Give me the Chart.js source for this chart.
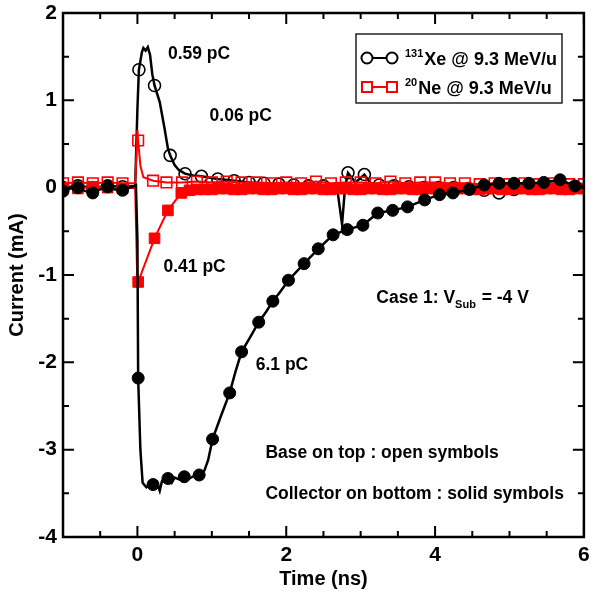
<!DOCTYPE html>
<html>
<head>
<meta charset="UTF-8">
<title>Current vs Time</title>
<script src="https://cdn.jsdelivr.net/npm/chart.js"></script>
<style>
  html, body { margin: 0; padding: 0; background: #fff; }
  canvas { display: block; }
</style>
</head>
<body>
<canvas id="chart" width="593" height="597"></canvas>
<script>
// ---- data (time in ns, current in mA) ----
const xeCollectorLine = [[-1,-0.04],[-0.9,-0.01],[-0.8,0.0],[-0.7,-0.04],[-0.6,-0.06],[-0.5,-0.02],[-0.4,0.01],[-0.3,-0.02],[-0.2,-0.03],[-0.1,0.0],[-0.02,0.03],[0.0,-0.6],[0.01,-2.18],[0.04,-3.0],[0.07,-3.38],[0.12,-3.43],[0.17,-3.40],[0.21,-3.40],[0.26,-3.37],[0.3,-3.47],[0.33,-3.36],[0.37,-3.32],[0.41,-3.33],[0.46,-3.38],[0.5,-3.32],[0.56,-3.34],[0.63,-3.31],[0.7,-3.33],[0.76,-3.30],[0.83,-3.29],[0.9,-3.24],[0.95,-3.12],[1.01,-2.88],[1.12,-2.62],[1.24,-2.35],[1.32,-2.1],[1.40,-1.88],[1.51,-1.72],[1.63,-1.54],[1.73,-1.42],[1.82,-1.30],[1.93,-1.18],[2.03,-1.06],[2.24,-0.87],[2.43,-0.70],[2.63,-0.54],[2.82,-0.48],[3.03,-0.43],[3.23,-0.29],[3.43,-0.26],[3.63,-0.22],[3.86,-0.14],[4.06,-0.08],[4.24,-0.06],[4.46,-0.02],[4.66,0.03],[4.86,0.05],[5.06,0.05],[5.26,0.05],[5.46,0.06],[5.68,0.09],[5.88,0.02],[6.0,0.02]];
const xeCollectorMarks = [[-1,-0.04],[-0.8,0.0],[-0.6,-0.06],[-0.4,0.01],[-0.2,-0.03],[0.01,-2.18],[0.21,-3.40],[0.41,-3.33],[0.63,-3.31],[0.83,-3.29],[1.01,-2.88],[1.24,-2.35],[1.40,-1.88],[1.63,-1.54],[1.82,-1.30],[2.03,-1.06],[2.24,-0.87],[2.43,-0.70],[2.63,-0.54],[2.82,-0.48],[3.03,-0.43],[3.23,-0.29],[3.43,-0.26],[3.63,-0.22],[3.86,-0.14],[4.06,-0.08],[4.24,-0.06],[4.46,-0.02],[4.66,0.03],[4.86,0.05],[5.06,0.05],[5.26,0.05],[5.46,0.06],[5.68,0.09],[5.88,0.02]];

const xeBaseLine = [[-1,0.0],[-0.8,0.02],[-0.6,0.0],[-0.4,0.02],[-0.2,0.01],[-0.03,0.02],[0.0,0.9],[0.02,1.35],[0.06,1.55],[0.08,1.60],[0.11,1.57],[0.14,1.61],[0.17,1.52],[0.2,1.3],[0.23,1.17],[0.3,0.98],[0.36,0.7],[0.41,0.45],[0.44,0.37],[0.5,0.26],[0.56,0.2],[0.64,0.16],[0.75,0.14],[0.86,0.13],[1.08,0.10],[1.3,0.08],[1.5,0.06],[1.7,0.05],[1.9,0.04],[2.1,0.03],[2.3,0.02],[2.5,0.02],[2.68,0.02],[2.75,-0.42],[2.79,0.0],[2.83,0.17],[2.93,0.06],[3.05,0.15],[3.15,0.03],[3.4,0.02],[3.7,0.01],[4.0,0.0],[4.3,0.0],[4.6,-0.02],[4.86,-0.06],[5.1,0.0],[5.4,0.01],[5.7,0.0],[6.0,0.0]];
const xeBaseMarks = [[-1,0.0],[-0.8,0.02],[-0.6,0.0],[-0.4,0.02],[-0.2,0.01],[0.02,1.35],[0.23,1.17],[0.44,0.37],[0.64,0.16],[0.86,0.13],[1.08,0.10],[1.3,0.08],[1.5,0.06],[1.7,0.05],[1.9,0.04],[2.1,0.03],[2.3,0.02],[2.5,0.02],[2.83,0.17],[3.05,0.15],[3.25,0.03],[3.45,0.02],[3.65,0.01],[3.85,0.0],[4.05,0.0],[4.25,0.0],[4.45,-0.01],[4.66,-0.03],[4.86,-0.06],[5.06,-0.02],[5.26,0.0],[5.46,0.01],[5.66,0.0],[5.86,0.0]];

const neBaseLine = [[-1,0.05],[-0.8,0.06],[-0.6,0.05],[-0.4,0.06],[-0.2,0.05],[-0.03,0.05],[0.0,0.66],[0.01,0.54],[0.04,0.25],[0.08,0.12],[0.21,0.08],[0.39,0.06],[0.6,0.06],[0.8,0.07],[1.0,0.06],[1.2,0.07],[1.4,0.06],[1.6,0.06],[1.8,0.05],[2.0,0.06],[2.2,0.05],[2.4,0.07],[2.6,0.05],[2.8,0.06],[3.0,0.06],[3.2,0.05],[3.4,0.07],[3.6,0.05],[3.8,0.06],[4.0,0.06],[4.2,0.05],[4.4,0.05],[4.6,0.04],[4.8,0.05],[5.0,0.04],[5.2,0.05],[5.4,0.04],[5.6,0.05],[5.8,0.04],[6.0,0.04]];
const neBaseMarks = [[-1,0.05],[-0.8,0.06],[-0.6,0.05],[-0.4,0.06],[-0.2,0.05],[0.01,0.54],[0.21,0.08],[0.39,0.06],[0.6,0.06],[0.8,0.07],[1.0,0.06],[1.2,0.07],[1.4,0.06],[1.6,0.06],[1.8,0.05],[2.0,0.06],[2.2,0.05],[2.4,0.07],[2.6,0.05],[2.8,0.06],[3.0,0.06],[3.2,0.05],[3.4,0.07],[3.6,0.05],[3.8,0.06],[4.0,0.06],[4.2,0.05],[4.4,0.05],[4.6,0.04],[4.8,0.05],[5.0,0.04],[5.2,0.05],[5.4,0.04],[5.6,0.05],[5.8,0.04],[6.0,0.04]];

const neCollectorLine = [[-1,0.0],[-0.8,-0.01],[-0.6,0.01],[-0.4,0.0],[-0.2,-0.01],[-0.03,0.0],[0.0,-1.15],[0.01,-1.08],[0.23,-0.58],[0.41,-0.26],[0.59,-0.06],[0.7,-0.03],[0.8,-0.02],[1.0,-0.02],[1.2,-0.01],[1.4,-0.02],[1.6,-0.01],[1.8,-0.02],[2.0,-0.01],[2.2,-0.02],[2.4,-0.01],[2.6,-0.02],[2.8,-0.01],[3.0,-0.02],[3.2,-0.01],[3.4,-0.02],[3.6,-0.01],[3.8,-0.02],[4.0,-0.01],[4.2,-0.02],[4.4,-0.01],[4.6,-0.02],[4.8,-0.01],[5.0,-0.02],[5.2,-0.01],[5.4,-0.02],[5.6,-0.01],[5.8,-0.02],[6.0,-0.01]];
const neCollectorMarks = [[-1,0.0],[-0.8,-0.01],[-0.6,0.01],[-0.4,0.0],[-0.2,-0.01],[0.01,-1.08],[0.23,-0.58],[0.41,-0.26],[0.59,-0.06],[0.7,-0.03],[0.8,-0.02],[0.9,-0.02],[1.0,-0.02],[1.1,-0.01],[1.2,-0.01],[1.3,-0.02],[1.4,-0.02],[1.5,-0.01],[1.6,-0.01],[1.7,-0.02],[1.8,-0.02],[1.9,-0.01],[2.0,-0.01],[2.1,-0.02],[2.2,-0.02],[2.3,-0.01],[2.4,-0.01],[2.5,-0.02],[2.6,-0.02],[2.7,-0.01],[2.8,-0.01],[2.9,-0.02],[3.0,-0.02],[3.1,-0.01],[3.2,-0.01],[3.3,-0.02],[3.4,-0.02],[3.5,-0.01],[3.6,-0.01],[3.7,-0.02],[3.8,-0.02],[3.9,-0.01],[4.0,-0.01],[4.1,-0.02],[4.2,-0.02],[4.3,-0.01],[4.4,-0.01],[4.5,-0.02],[4.6,-0.02],[4.7,-0.01],[4.8,-0.01],[4.9,-0.02],[5.0,-0.02],[5.1,-0.01],[5.2,-0.01],[5.3,-0.02],[5.4,-0.02],[5.5,-0.01],[5.6,-0.01],[5.7,-0.02],[5.8,-0.02],[5.9,-0.01],[6.0,-0.01]];

const xTickLabels = [0, 2, 4, 6];
const xMinorTicks = [-0.5, 0.5, 1, 1.5, 2.5, 3, 3.5, 4.5, 5, 5.5];
const yTickLabels = [-4, -3, -2, -1, 0, 1, 2];
const yMinorTicks = [-3.5, -2.5, -1.5, -0.5, 0.5, 1.5];

const FONT = "'Liberation Sans', Arial, Helvetica, sans-serif";

const pts = arr => arr.map(p => ({ x: p[0], y: p[1] }));

// text notes placed in data units
const notes = [
  { x: 0.41, y: 1.54, parts: [{ t: '0.59 pC' }] },
  { x: 0.97, y: 0.83, parts: [{ t: '0.06 pC' }] },
  { x: 0.35, y: -0.90, parts: [{ t: '0.41 pC' }] },
  { x: 1.59, y: -2.02, parts: [{ t: '6.1 pC' }] },
  { x: 3.21, y: -1.25, parts: [{ t: 'Case 1: V' }, { t: 'Sub', sub: true }, { t: ' = -4 V' }] },
  { x: 1.72, y: -3.03, parts: [{ t: 'Base on top : open symbols' }] },
  { x: 1.72, y: -3.50, parts: [{ t: 'Collector on bottom : solid symbols' }] }
];

function drawRich(ctx, parts, x, y, size) {
  ctx.textAlign = 'left';
  ctx.textBaseline = 'alphabetic';
  let cx = x;
  parts.forEach(p => {
    if (p.sup || p.sub) {
      ctx.font = 'bold ' + Math.round(size * 0.62) + 'px ' + FONT;
      ctx.fillText(p.t, cx, p.sup ? y - size * 0.45 : y + size * 0.3);
    } else {
      ctx.font = 'bold ' + size + 'px ' + FONT;
      ctx.fillText(p.t, cx, y);
    }
    cx += ctx.measureText(p.t).width + (p.sup || p.sub ? 1 : 0);
  });
}

const decor = {
  id: 'decor',
  afterDatasetsDraw(chart) {
    const { ctx, chartArea: a, scales: { x, y } } = chart;
    ctx.save();
    ctx.strokeStyle = '#000';
    ctx.fillStyle = '#000';
    ctx.lineWidth = 2;

    // inward ticks on all four sides
    const tick = (px, len, horiz) => {
      ctx.beginPath();
      if (horiz) {
        ctx.moveTo(px, a.bottom); ctx.lineTo(px, a.bottom - len);
        ctx.moveTo(px, a.top); ctx.lineTo(px, a.top + len);
      } else {
        ctx.moveTo(a.left, px); ctx.lineTo(a.left + len, px);
        ctx.moveTo(a.right, px); ctx.lineTo(a.right - len, px);
      }
      ctx.stroke();
    };
    xTickLabels.forEach(v => tick(x.getPixelForValue(v), 11, true));
    xMinorTicks.forEach(v => tick(x.getPixelForValue(v), 6, true));
    yTickLabels.forEach(v => tick(y.getPixelForValue(v), 11, false));
    yMinorTicks.forEach(v => tick(y.getPixelForValue(v), 6, false));

    ctx.lineWidth = 2.5;
    ctx.strokeRect(a.left, a.top, a.right - a.left, a.bottom - a.top);

    // notes
    notes.forEach(n => {
      drawRich(ctx, n.parts, x.getPixelForValue(n.x), y.getPixelForValue(n.y) + 6, 17.5);
    });

    // legend box
    const bx = 356, by = 34, bw = 206, bh = 69;
    ctx.fillStyle = '#fff';
    ctx.fillRect(bx, by, bw, bh);
    ctx.lineWidth = 1.5;
    ctx.strokeStyle = '#222';
    ctx.strokeRect(bx, by, bw, bh);

    // entry 1: open circles
    ctx.strokeStyle = '#000';
    ctx.lineWidth = 2;
    ctx.beginPath(); ctx.moveTo(367, 58); ctx.lineTo(392, 58); ctx.stroke();
    [367, 392].forEach(cx => { ctx.beginPath(); ctx.arc(cx, 58, 5.5, 0, Math.PI * 2); ctx.fillStyle = '#fff'; ctx.fill(); ctx.stroke(); });
    ctx.fillStyle = '#000';
    drawRich(ctx, [{ t: '131', sup: true }, { t: 'Xe @ 9.3 MeV/u' }], 405, 65, 18);

    // entry 2: open squares
    ctx.strokeStyle = '#f00';
    ctx.beginPath(); ctx.moveTo(367, 87); ctx.lineTo(392, 87); ctx.stroke();
    [367, 392].forEach(cx => { ctx.fillStyle = '#fff'; ctx.fillRect(cx - 5, 82, 10, 10); ctx.strokeRect(cx - 5, 82, 10, 10); });
    ctx.fillStyle = '#000';
    drawRich(ctx, [{ t: '20', sup: true }, { t: 'Ne @ 9.3 MeV/u' }], 405, 94, 18);

    ctx.restore();
  }
};

const lineSet = (data, color, width) => ({
  data: pts(data), borderColor: color, borderWidth: width, pointRadius: 0,
  showLine: true, fill: false, tension: 0
});
const markSet = (data, color, style, filled, r, bw) => ({
  data: pts(data), showLine: false, pointStyle: style, pointRadius: r,
  pointBorderColor: color, pointBackgroundColor: filled ? color : 'rgba(0,0,0,0)',
  pointBorderWidth: bw
});

// first datasets are drawn on top
new Chart(document.getElementById('chart'), {
  type: 'scatter',
  data: {
    datasets: [
      markSet(xeCollectorMarks, '#000', 'circle', true, 6, 1),
      lineSet(xeCollectorLine, '#000', 2.5),
      markSet(neCollectorMarks, '#f00', 'rect', true, 7.5, 1),
      lineSet(neCollectorLine, '#f00', 2),
      markSet(neBaseMarks, '#f00', 'rect', false, 7.5, 1.6),
      lineSet(neBaseLine, '#f00', 2),
      markSet(xeBaseMarks, '#000', 'circle', false, 6, 1.6),
      lineSet(xeBaseLine, '#000', 2.5)
    ]
  },
  options: {
    responsive: false,
    animation: false,
    events: [],
    layout: { padding: { top: 13, right: 5, left: 0, bottom: 0 } },
    plugins: { legend: { display: false }, tooltip: { enabled: false } },
    scales: {
      x: {
        type: 'linear', min: -1, max: 6,
        afterBuildTicks: s => { s.ticks = xTickLabels.map(v => ({ value: v })); },
        afterFit: s => { s.height = 60; s.paddingLeft = 0; s.paddingRight = 0; },
        grid: { display: false, drawTicks: false },
        border: { display: false },
        ticks: { color: '#000', font: { family: FONT, size: 21, weight: 'bold' }, padding: 6, maxRotation: 0, autoSkip: false },
        title: { display: true, text: 'Time (ns)', color: '#000', font: { family: FONT, size: 20, weight: 'bold' }, padding: { top: 0, bottom: 6 } }
      },
      y: {
        type: 'linear', min: -4, max: 2,
        afterBuildTicks: s => { s.ticks = yTickLabels.map(v => ({ value: v })); },
        afterFit: s => { s.width = 63; s.paddingTop = 0; s.paddingBottom = 0; },
        grid: { display: false, drawTicks: false },
        border: { display: false },
        ticks: { color: '#000', font: { family: FONT, size: 21, weight: 'bold' }, padding: 6, autoSkip: false },
        title: { display: true, text: 'Current (mA)', color: '#000', font: { family: FONT, size: 20, weight: 'bold' }, padding: { top: 5, bottom: 0 } }
      }
    }
  },
  plugins: [decor]
});
</script>
</body>
</html>
